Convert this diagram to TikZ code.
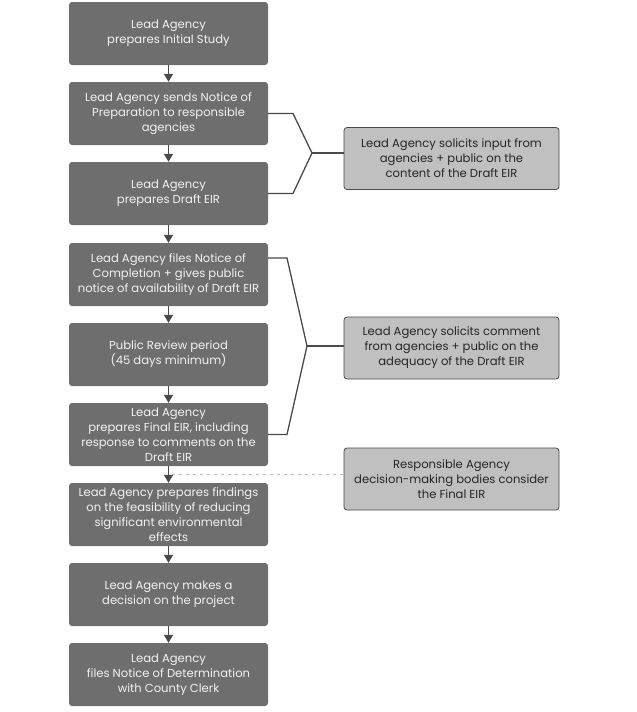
\documentclass[tikz,border=0pt]{standalone}
\usepackage{fontspec}
\setmainfont{Poppins}
\usetikzlibrary{arrows.meta}
\definecolor{boxgray}{HTML}{6E6E6E}
\definecolor{boxtext}{HTML}{F2F2F2}
\definecolor{sidegray}{HTML}{C0C0C0}
\definecolor{lineg}{HTML}{4A4A4A}
\definecolor{dashg}{HTML}{BDBDBD}
\begin{document}
\begin{tikzpicture}[x=1pt,y=-1pt,
  stepbox/.style={fill=boxgray, rounded corners=3pt, minimum width=199pt, minimum height=63pt,
    align=center, text=boxtext, inner sep=0pt,
    font=\fontsize{11.6pt}{15pt}\selectfont},
  sidebox/.style={fill=sidegray, draw=lineg, line width=0.8pt, rounded corners=3pt, minimum width=215pt, minimum height=62pt,
    align=center, text=black!85, inner sep=0pt,
    font=\fontsize{11.6pt}{15pt}\selectfont},
  flow/.style={draw=lineg, line width=1.6pt, -{Triangle[length=8pt,width=9pt]}},
  brace/.style={draw=lineg, line width=1.3pt},
  ]
\useasboundingbox (0,0) rectangle (637,712);
\node[stepbox] (b1) at (168.5,33.5) {Lead Agency\\prepares Initial Study};
\node[stepbox] (b2) at (168.5,113.5) {Lead Agency sends Notice of\\Preparation to responsible\\agencies};
\node[stepbox] (b3) at (168.5,193.5) {Lead Agency\\prepares Draft EIR};
\node[stepbox] (b4) at (168.5,274.5) {Lead Agency files Notice of\\Completion + gives public\\notice of availability of Draft EIR};
\node[stepbox] (b5) at (168.5,354.5) {Public Review period\\(45 days minimum)};
\node[stepbox] (b6) at (168.5,434.5) {Lead Agency\\prepares Final EIR, including\\response to comments on the\\Draft EIR};
\node[stepbox] (b7) at (168.5,514.5) {Lead Agency prepares findings\\on the feasibility of reducing\\significant environmental\\effects};
\node[stepbox] (b8) at (168.5,594.5) {Lead Agency makes a\\decision on the project};
\node[stepbox] (b9) at (168.5,674.5) {Lead Agency\\files Notice of Determination\\with County Clerk};

\node[sidebox] (r1) at (451.5,158.5) {Lead Agency solicits input from\\agencies + public on the\\content of the Draft EIR};
\node[sidebox] (r2) at (451.5,348) {Lead Agency solicits comment\\from agencies + public on the\\adequacy of the Draft EIR};
\node[sidebox] (r3) at (451.5,479) {Responsible Agency\\decision-making bodies consider\\the Final EIR};

\foreach \a/\b in {b1/b2,b2/b3,b3/b4,b4/b5,b5/b6,b6/b7,b7/b8,b8/b9}
  \draw[flow] (\a.south) -- (\b.north);

\coordinate (p1) at (312,153);
\draw[brace] (b2.east) -- (293,113.5) -- (p1) -- (293,193.5) -- (b3.east);
\draw[brace] (p1) -- (r1.west |- p1);

\coordinate (p2) at (307,346);
\coordinate (t2) at (268,258);
\draw[brace] (t2) -- (287,258) -- (p2) -- (287,434.5) -- (b6.east);
\draw[brace] (p2) -- (r2.west |- p2);

\coordinate (d1) at (172,474);
\draw[dashg, line width=0.8pt, dash pattern=on 3pt off 4pt] (d1) -- (r3.west |- d1);
\end{tikzpicture}
\end{document}
